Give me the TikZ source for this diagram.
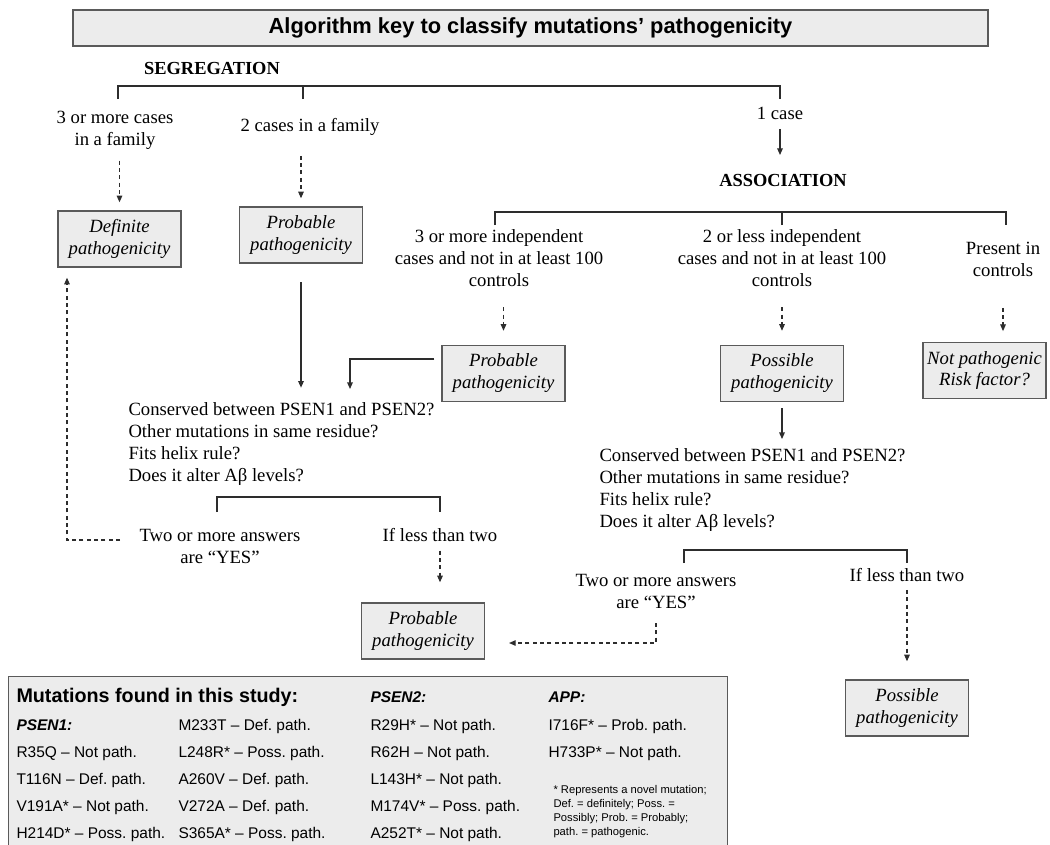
\documentclass[tikz,border=0pt]{standalone}
\usepackage{fontspec}
\setmainfont{Liberation Serif}
\setsansfont{Liberation Sans}
\usetikzlibrary{arrows.meta,calc}
\frenchspacing

\definecolor{panelgray}{RGB}{236,236,236}
\definecolor{framegray}{RGB}{90,90,90}
\definecolor{wiregray}{RGB}{45,45,45}

\newcommand{\flowfont}{\fontsize{14pt}{16.5pt}\selectfont}
\newcommand{\keyfont}{\sffamily\fontsize{11.6pt}{14pt}\selectfont}

\tikzset{every picture/.style={line width=0.75pt},
  outcome/.style={draw=framegray, line width=1.1pt, fill=panelgray, align=center, inner sep=0pt,
    minimum width=92pt, minimum height=42pt, font=\flowfont\itshape},
  flowtext/.style={align=center, inner sep=0.75pt, font=\flowfont},
  stagehead/.style={inner sep=0.75pt, font=\fontsize{13.8pt}{16pt}\selectfont\bfseries},
  wire/.style={draw=wiregray, line width=1pt},
  wiretip/.style={-{Triangle[length=5pt,width=4.2pt]}},
  dashwire/.style={wire, line width=0.8pt, dash pattern=on 3pt off 2.5pt},
  keyentry/.style={anchor=base west, inner sep=0pt, font=\keyfont},
  keyhead/.style={anchor=base west, inner sep=0pt, font=\keyfont\bfseries\itshape},
}

\begin{document}
\begin{tikzpicture}[x=0.75pt,y=0.75pt,yscale=-1,xscale=1]
\useasboundingbox (0,0) rectangle (1050,844);

%Shape: Rectangle (title)
\node [draw=framegray, line width=1.1pt, fill=panelgray, minimum width=686pt, minimum height=27pt, font=\sffamily\bfseries\fontsize{16.4pt}{19pt}\selectfont] (title) at (530.5,28) {Algorithm key to classify mutations’ pathogenicity};

% Text Node
\node [stagehead] (seg) at (212,68) {SEGREGATION};
%Straight Lines
\coordinate (segA) at (118,99);
\coordinate (segB) at (303,99);
\coordinate (segC) at (780,99);
\draw [wire] (segA) -- ++(0,-13) -| (segC);
\draw [wire] (segB) -- ++(0,-13);

% Text Node
\node [flowtext] (fam3) at (115,130) {3 or more cases\\in a family};
% Text Node
\node [flowtext] (fam2) at (310,127) {2 cases in a family};
% Text Node
\node [flowtext] (case1) at (780,113) {1 case};
% Text Node
\node [stagehead] (assoc) at (783,180) {ASSOCIATION};

%Shape: Rectangle
\node [outcome] (defin) at (119.5,239) {Definite\\pathogenicity};
%Shape: Rectangle
\node [outcome] (probL) at (301,235) {Probable\\pathogenicity};

%Straight Lines
\draw [dashwire,wiretip,shorten <=7.5pt,shorten >=6pt] (fam3.south -| defin) -- (defin.north);
\draw [dashwire,wiretip,shorten <=14pt,shorten >=6pt] (fam2.south -| probL) -- (probL.north);
\draw [wire,wiretip,shorten <=6pt,shorten >=13pt] (case1.south) -- (case1.south |- assoc.north);

%Straight Lines
\coordinate (asA) at (495,225);
\coordinate (asB) at (782,225);
\coordinate (asC) at (1006,225);
\draw [wire] (asA) -- ++(0,-13) -| (asC);
\draw [wire] (asB) -- ++(0,-13);

% Text Node
\node [flowtext] (ind3) at (499,258.5) {3 or more independent\\cases and not in at least 100\\controls};
% Text Node
\node [flowtext] (ind2) at (782,258.5) {2 or less independent\\cases and not in at least 100\\controls};
% Text Node
\node [flowtext] (inctrl) at (1003,259) {Present in\\controls};

%Shape: Rectangle
\node [outcome] (probM) at (503.5,373.5) {Probable\\pathogenicity};
%Shape: Rectangle
\node [outcome] (possM) at (782,373.5) {Possible\\pathogenicity};
%Shape: Rectangle
\node [outcome] (notpath) at (984.5,370.5) {Not pathogenic\\Risk factor?};

%Straight Lines
\draw [dashwire,wiretip,shorten <=14pt,shorten >=10.5pt] (ind3.south -| probM) -- (probM.north);
\draw [dashwire,wiretip,shorten <=14pt,shorten >=10.5pt] (ind2.south -| possM) -- (possM.north);
\draw [dashwire,wiretip,shorten <=22.5pt,shorten >=8pt] (inctrl.south) -- (inctrl.south |- notpath.north);

% Text Node
\node [flowtext, anchor=west, align=left] (qL) at (127,444) {Conserved between PSEN1 and PSEN2?\\Other mutations in same residue?\\Fits helix rule?\\Does it alter Aβ levels?};
% Text Node
\node [flowtext, anchor=west, align=left] (qR) at (598,490) {Conserved between PSEN1 and PSEN2?\\Other mutations in same residue?\\Fits helix rule?\\Does it alter Aβ levels?};

%Straight Lines
\coordinate (mergeIn) at (350,389);
\draw [wire,wiretip,shorten <=14pt,shorten >=10pt] (probL.south) -- (probL.south |- qL.north);
\draw [wire,wiretip] ($(probM.west)+(-7,-14.5)$) -| (mergeIn);
\draw [wire,wiretip,shorten <=4.5pt,shorten >=6pt] (possM.south) -- (possM.south |- qR.north);

%Straight Lines
\coordinate (brLa) at (217,512);
\coordinate (brLb) at (440,512);
\draw [wire] (brLa) -- ++(0,-15) -| (brLb);
\coordinate (brRa) at (684,563);
\coordinate (brRb) at (907,563);
\draw [wire] (brRa) -- ++(0,-13) -| (brRb);

% Text Node
\node [flowtext] (yesL) at (220,546) {Two or more answers\\are “YES”};
% Text Node
\node [flowtext] (lessL) at (440,535) {If less than two};
% Text Node
\node [flowtext] (yesR) at (656,591) {Two or more answers\\are “YES”};
% Text Node
\node [flowtext] (lessR) at (907,575) {If less than two};

%Shape: Rectangle
\node [outcome] (probB) at (423,631) {Probable\\pathogenicity};
%Shape: Rectangle
\node [outcome] (possB) at (907,708) {Possible\\pathogenicity};

%Straight Lines
\draw [dashwire,wiretip,shorten <=5.5pt,shorten >=15pt] (lessL.south) -- (lessL.south |- probB.north);
\draw [dashwire,wiretip,shorten <=13.5pt] ($(yesL.west |- lessL)+(0,5)$) -| ($(defin.south)+(-52.5,10)$);
\draw [dashwire,wiretip,shorten <=10pt] (yesR.south) |- ($(probB.east)+(24,12)$);
\draw [dashwire,wiretip,shorten <=5pt,shorten >=13.5pt] (lessR.south) -- (lessR.south |- possB.north);

%Shape: Rectangle (key panel)
\node [draw=framegray, line width=1.1pt, fill=panelgray, anchor=north west, minimum width=539.25pt, minimum height=145pt, inner sep=0pt] (keypanel) at (8,676) {};

% Text Node
\node [anchor=base west, inner sep=0pt, font=\sffamily\bfseries\fontsize{14.8pt}{17pt}\selectfont] (keytitle) at (16,702) {Mutations found in this study:};
% Text Node
\node [keyhead] (psen1) at (16,730.5) {PSEN1:};
\node [keyentry] (r35q) at (16,757.5) {R35Q – Not path.};
\node [keyentry] (t116n) at (16,784.5) {T116N – Def. path.};
\node [keyentry] (v191a) at (16,811.5) {V191A* – Not path.};
\node [keyentry] (h214d) at (16,838.5) {H214D* – Poss. path.};
% Text Node
\node [keyentry] (m233t) at (178,730.5) {M233T – Def. path.};
\node [keyentry] (l248r) at (178,757.5) {L248R* – Poss. path.};
\node [keyentry] (a260v) at (178,784.5) {A260V – Def. path.};
\node [keyentry] (v272a) at (178,811.5) {V272A – Def. path.};
\node [keyentry] (s365a) at (178,838.5) {S365A* – Poss. path.};
% Text Node
\node [keyhead] (psen2) at (370,702.5) {PSEN2:};
\node [keyentry] (r29h) at (370,730.5) {R29H* – Not path.};
\node [keyentry] (r62h) at (370,757.5) {R62H – Not path.};
\node [keyentry] (l143h) at (370,784.5) {L143H* – Not path.};
\node [keyentry] (m174v) at (370,811.5) {M174V* – Poss. path.};
\node [keyentry] (a252t) at (370,838.5) {A252T* – Not path.};
% Text Node
\node [keyhead] (app) at (548,702.5) {APP:};
\node [keyentry] (i716f) at (548,730.5) {I716F* – Prob. path.};
\node [keyentry] (h733p) at (548,757.5) {H733P* – Not path.};
% Text Node
\node [anchor=north west, inner sep=0pt, align=left, font=\sffamily\fontsize{8.4pt}{10.5pt}\selectfont] (keynote) at (553,785) {* Represents a novel mutation;\\Def. = definitely; Poss. =\\Possibly; Prob. = Probably;\\path. = pathogenic.};

\end{tikzpicture}
\end{document}
